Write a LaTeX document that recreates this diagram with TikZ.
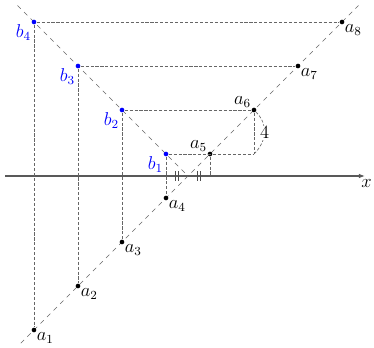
\documentclass[tikz,border=0pt]{standalone}
\usetikzlibrary{arrows.meta}
\begin{document}
\begin{tikzpicture}[x=0.5cm, y=0.5cm, every label/.style={font=\large},
  pt/.style={circle, fill, inner sep=0pt, minimum size=3pt},
  bpt/.style={pt, blue},
  guide/.style={black!60, dash pattern=on 2pt off 1.2pt},
  diag/.style={black!60, dashed},
  axis/.style={black!65, line width=0.8pt, -{Latex[length=4pt]}}]
  \useasboundingbox (-8.545,-7.818) rectangle (8.455,8);

  % x axis
  \coordinate (xl) at (-8.3,0);
  \coordinate (xr) at (8.05,0);
  \draw[axis] (xl) -- (xr) node[below, black, inner sep=2pt, xshift=1pt, font=\large] {$x$};

  % the two diagonals
  \coordinate (o) at (0,0);
  \coordinate (d1) at (-7.6,-7.6);
  \coordinate (d2) at (7.75,7.75);
  \coordinate (d3) at (-7.75,7.75);
  \draw[diag] (d1) -- (d2);
  \draw[diag] (d3) -- (o);

  % points
  \foreach \i/\v in {1/-7,2/-5,3/-3,4/-1,7/5,8/7}
    \node[pt, label={[label distance=-4pt]below right:$a_{\i}$}] (a\i) at (\v,\v) {};
  \foreach \i/\v in {5/1,6/3}
    \node[pt, label={[label distance=-4pt]above left:$a_{\i}$}] (a\i) at (\v,\v) {};
  \foreach \i/\v in {1/1,2/3,3/5,4/7}
    \node[bpt, label={[blue, label distance=-4pt]below left:$b_{\i}$}] (b\i) at (-\v,\v) {};

  % guides
  \coordinate (q6) at (3,1);
  \coordinate (p5) at (1,0);
  \draw[guide] (b1) -- (q6);
  \foreach \i/\j in {2/6,3/7,4/8}
    \draw[guide] (b\i) -- (a\j);
  \foreach \i/\j in {1/4,2/3,3/2,4/1}
    \draw[guide] (b\i) -- (a\j);
  \draw[guide] (a5) -- (p5);
  \draw[guide] (a6) -- (q6);
  \draw[guide] (a6) to[out=-45, in=45, looseness=1.1]
    node[fill=white, text=black, inner sep=0.5pt, font=\large] {$4$} (q6);

  % equal marks
  \foreach \t in {-0.5,0.5} {
    \draw[black!70] (\t-0.07,-0.22) -- (\t-0.07,0.22);
    \draw[black!70] (\t+0.07,-0.22) -- (\t+0.07,0.22);
  }
\end{tikzpicture}
\end{document}
